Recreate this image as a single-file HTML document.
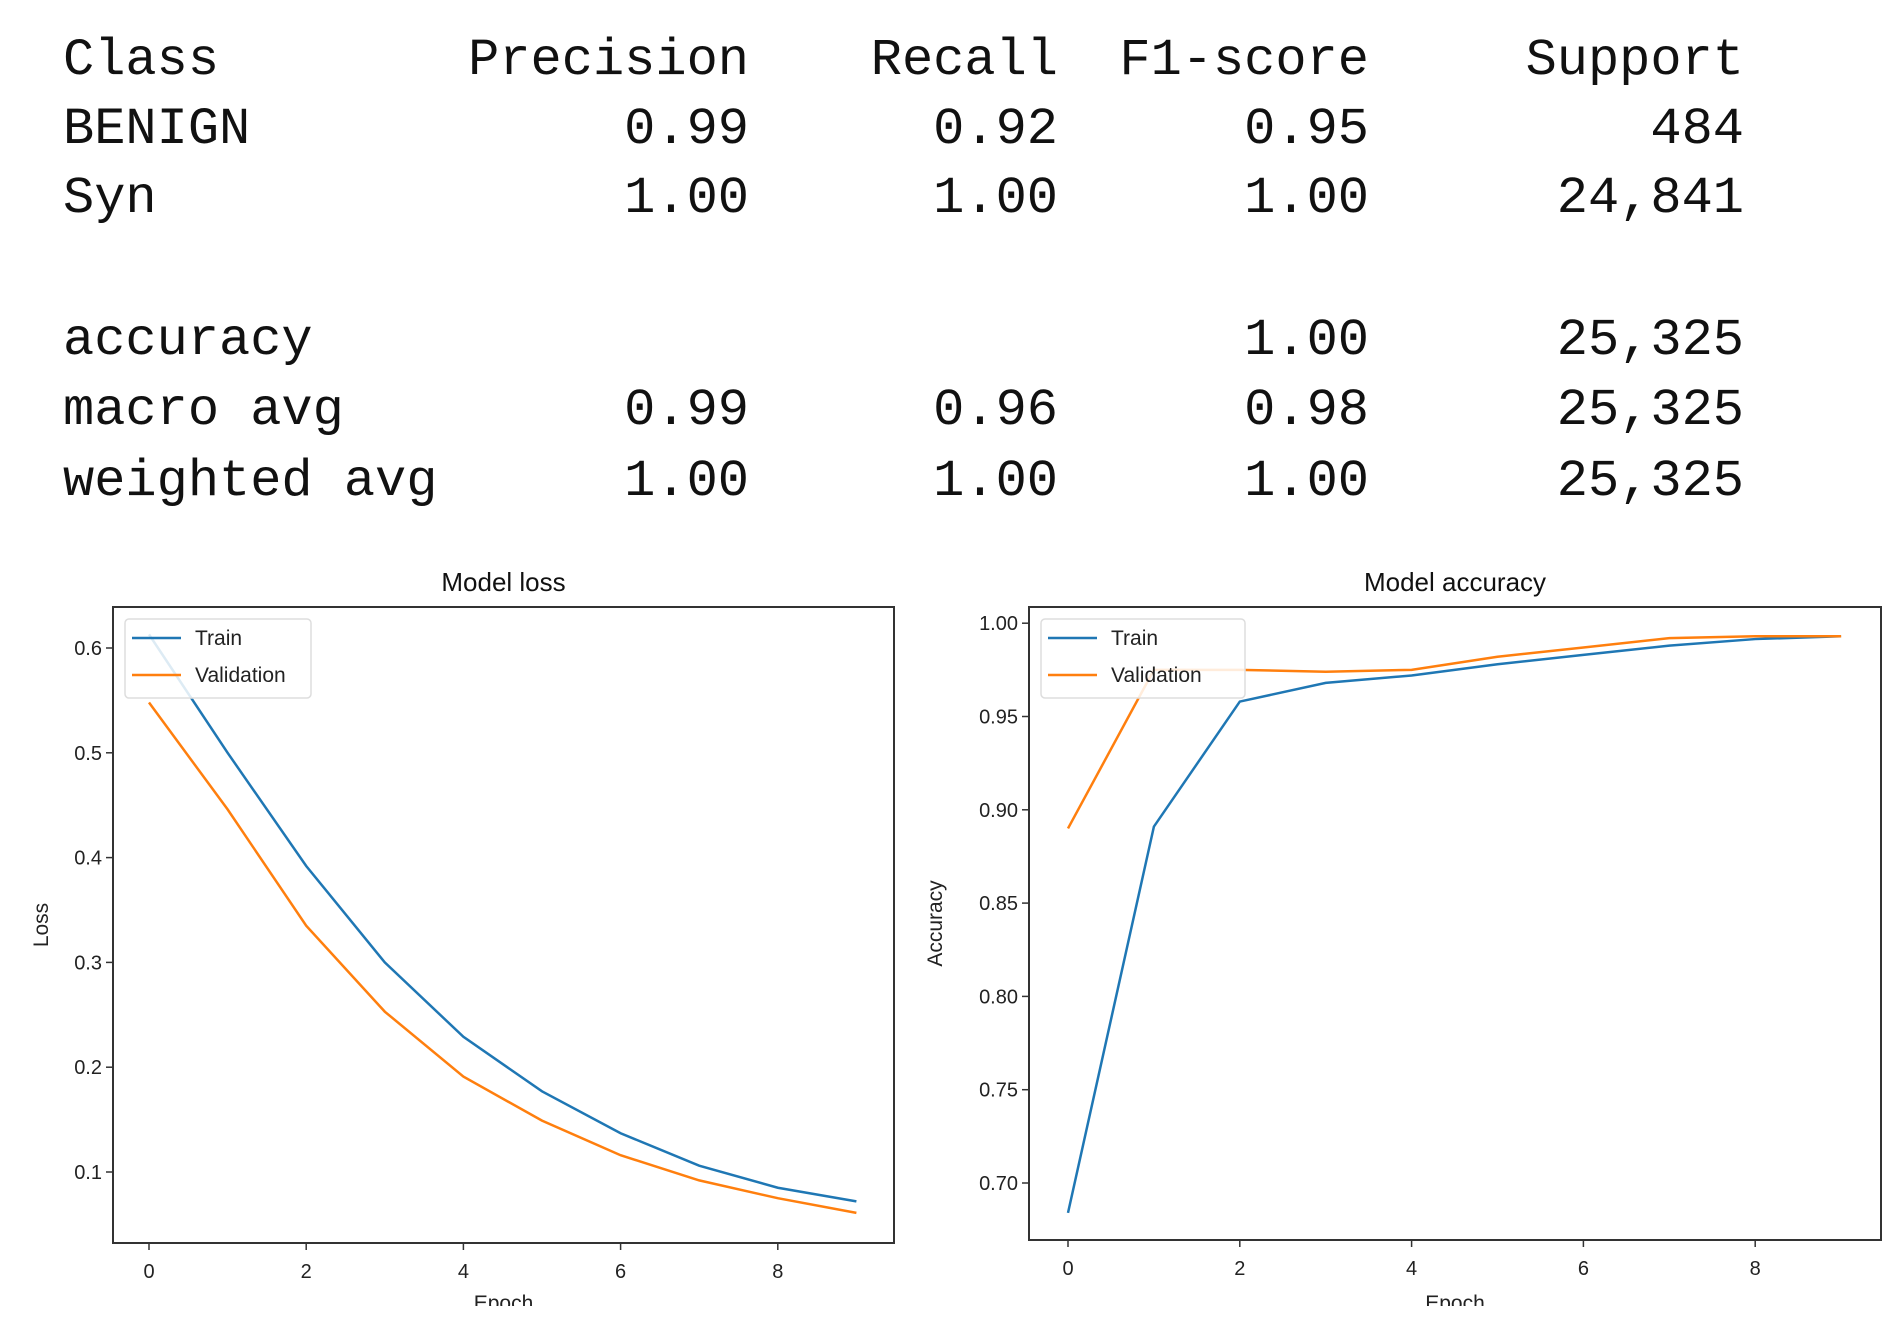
<!DOCTYPE html>
<html><head><meta charset="utf-8">
<style>
body{margin:0;background:#fff;width:1903px;height:1336px;overflow:hidden;position:relative;font-family:"Liberation Sans",sans-serif}
.t{position:absolute;font-family:"Liberation Mono",monospace;font-size:52px;color:#111;line-height:60px;white-space:pre}
</style></head><body>
<div id="table"></div>
<svg id="chart" width="1903" height="1336" style="position:absolute;left:0;top:0"></svg>
<script>
const lossEpochs=[0,1,2,3,4,5,6,7,8,9];
const lossTrain=[0.613,0.50,0.392,0.30,0.229,0.177,0.137,0.106,0.085,0.072];
const lossVal=[0.548,0.446,0.335,0.253,0.191,0.149,0.116,0.092,0.075,0.061];
const accTrain=[0.684,0.891,0.958,0.968,0.972,0.978,0.983,0.988,0.9915,0.993];
const accVal=[0.890,0.975,0.975,0.974,0.975,0.982,0.987,0.992,0.993,0.993];
const lossTicks=[0.1,0.2,0.3,0.4,0.5,0.6];
const accTicks=[0.70,0.75,0.80,0.85,0.90,0.95,1.00];
const xTicks=[0,2,4,6,8];
const rows=[["Class","Precision","Recall","F1-score","Support"],["BENIGN","0.99","0.92","0.95","484"],["Syn","1.00","1.00","1.00","24,841"],["accuracy","","","1.00","25,325"],["macro avg","0.99","0.96","0.98","25,325"],["weighted avg","1.00","1.00","1.00","25,325"]];

const tbl=document.getElementById('table');
const rowY=[61,130,199,341,411,482];
const colR=[749,1058,1369,1744];
rows.forEach((r,i)=>{
  const d=document.createElement('div');d.className='t';d.textContent=r[0];
  d.style.left='63px';d.style.top=(rowY[i]-30)+'px';
  
  
  tbl.appendChild(d);
  for(let c=1;c<5;c++){
    const e=document.createElement('div');e.className='t';e.textContent=r[c];
    e.style.right=(1903-colR[c-1])+'px';e.style.top=(rowY[i]-30)+'px';
    
    
    tbl.appendChild(e);
  }
});

const svg=document.getElementById('chart');const NS='http://www.w3.org/2000/svg';
function el(t,a,txt){const e=document.createElementNS(NS,t);for(const k in a)e.setAttribute(k,a[k]);if(txt!==undefined)e.textContent=txt;svg.appendChild(e);return e;}
function plot(o){
  const X=v=>o.x0+v*o.dx, Y=v=>o.y0-(v-o.v0)*o.dy;
  let f=el('rect',{x:o.L,y:o.T,width:o.R-o.L,height:o.B-o.T,fill:'none',stroke:'#333','stroke-width':2});
  
  let t=el('text',{x:(o.L+o.R)/2,y:o.T-16,'text-anchor':'middle','font-size':26,fill:'#111'},o.title);
  
  o.yt.forEach(v=>{el('line',{x1:o.L-7,x2:o.L,y1:Y(v),y2:Y(v),stroke:'#333','stroke-width':1.5});
    let l=el('text',{x:o.L-11,y:Y(v)+7,'text-anchor':'end','font-size':20,fill:'#222'},v.toFixed(o.fd));
    });
  xTicks.forEach(v=>{el('line',{x1:X(v),x2:X(v),y1:o.B,y2:o.B+7,stroke:'#333','stroke-width':1.5});
    let l=el('text',{x:X(v),y:o.B+35,'text-anchor':'middle','font-size':20,fill:'#222'},v);
    });
  let xl=el('text',{x:(o.L+o.R)/2,y:1310,'text-anchor':'middle','font-size':21,fill:'#222'},'Epoch');
  
  let yl=el('text',{x:0,y:0,'text-anchor':'middle','font-size':21,fill:'#222',transform:`translate(${o.ylx},${(o.T+o.B)/2}) rotate(-90)`},o.ylab);
  
  [[o.tr,'#1f77b4','train-line'],[o.va,'#ff7f0e','validation-line']].forEach(([d,c,n])=>{
    let p=el('polyline',{points:d.map((v,i)=>X(lossEpochs[i])+','+Y(v)).join(' '),fill:'none',stroke:c,'stroke-width':2.5});
    });
  let lg=el('rect',{x:o.lgx,y:619,width:o.lgw,height:79,fill:'#fff','fill-opacity':0.85,stroke:'#ddd','stroke-width':1.5,rx:4});
  
  [['Train','#1f77b4',638],['Validation','#ff7f0e',675]].forEach(([s,c,y])=>{
    el('line',{x1:o.lgx+7,x2:o.lgx+56,y1:y,y2:y,stroke:c,'stroke-width':2.5});
    let l=el('text',{x:o.lgx+70,y:y+7,'font-size':21,fill:'#222'},s);
    });
}
plot({name:'loss-chart',L:113,R:894,T:607,B:1243,x0:149,dx:78.6,y0:1172,v0:0.1,dy:1048,yt:lossTicks,fd:1,title:'Model loss',ylab:'Loss',ylx:48,tr:lossTrain,va:lossVal,lgx:125,lgw:186});
plot({name:'accuracy-chart',L:1029,R:1881,T:607,B:1240,x0:1068,dx:85.9,y0:1183,v0:0.70,dy:1866,yt:accTicks,fd:2,title:'Model accuracy',ylab:'Accuracy',ylx:942,tr:accTrain,va:accVal,lgx:1041,lgw:204});
let mask=el('rect',{x:0,y:1306,width:1903,height:30,fill:'#fff'});


</script>
</body></html>
